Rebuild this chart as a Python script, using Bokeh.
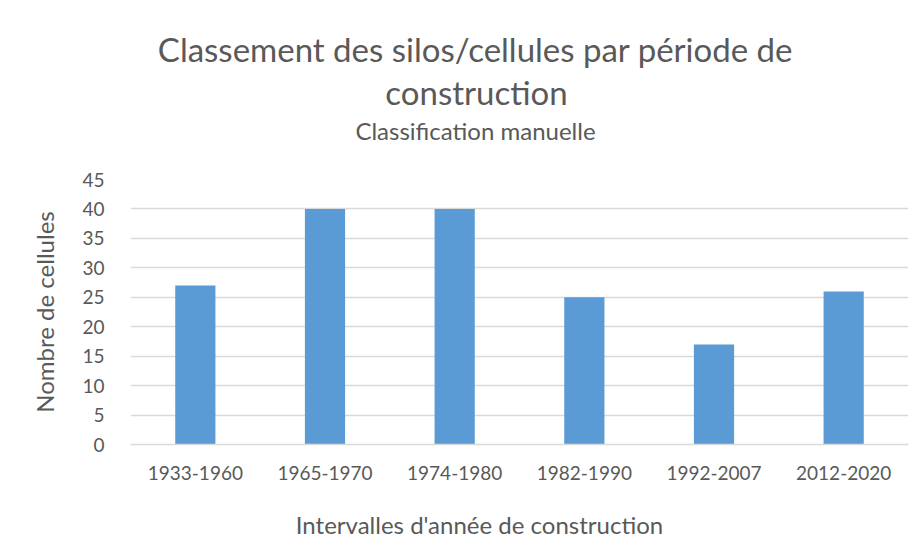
from bokeh.plotting import figure
from bokeh.layouts import column
from bokeh.models import FactorRange, Range1d, FixedTicker, ColumnDataSource
from bokeh.core.properties import value
from bokeh.embed import file_html
from bokeh.resources import INLINE

categories = ["1933-1960", "1965-1970", "1974-1980", "1982-1990", "1992-2007", "2012-2020"]
counts = [27, 40, 40, 25, 17, 26]
y_ticks = [0, 5, 10, 15, 20, 25, 30, 35, 40, 45]

title_line1 = "Classement des silos/cellules par période de"
title_line2 = "construction"
subtitle = "Classification manuelle"
x_label = "Intervalles d'année de construction"
y_label = "Nombre de cellules"

FONT = "Lato"
TXT = "#595959"
W = 910
LEFT, RIGHT = 130, 2


def text_panel(height):
    # frame aligned with the main chart's frame (column aligns inner borders)
    f = figure(width=W, height=height, output_backend="svg", toolbar_location=None,
               x_range=Range1d(LEFT, W - RIGHT), y_range=Range1d(height, 0),
               x_axis_type=None, y_axis_type=None,
               min_border_left=LEFT, min_border_right=RIGHT, min_border_top=0, min_border_bottom=0)
    f.outline_line_color = None
    f.grid.visible = False
    f.background_fill_color = "white"
    f.border_fill_color = "white"
    return f


# ---- title block ----
top = text_panel(164)
top.text(x=[475], y=[48], text=[title_line1], text_align="center", text_baseline="alphabetic",
         text_font=value(FONT), text_font_size="33px", text_color=TXT)
top.text(x=[476], y=[91], text=[title_line2], text_align="center", text_baseline="alphabetic",
         text_font=value(FONT), text_font_size="33px", text_color=TXT)
top.text(x=[475], y=[130], text=[subtitle], text_align="center", text_baseline="alphabetic",
         text_font=value(FONT), text_font_size="24px", text_color=TXT)

# ---- main chart ----
src = ColumnDataSource(dict(cat=categories, val=counts))
p = figure(width=W, height=336, output_backend="svg", toolbar_location=None,
           x_range=FactorRange(*categories), y_range=Range1d(0, 45),
           min_border_left=LEFT, min_border_right=RIGHT, min_border_top=15, min_border_bottom=56)
p.outline_line_color = None
p.background_fill_color = "white"
p.border_fill_color = "white"

p.vbar(x="cat", top="val", width=0.31, source=src, fill_color="#5B9BD5", line_color=None)

p.yaxis.ticker = FixedTicker(ticks=y_ticks)
p.yaxis.axis_line_color = None
p.yaxis.major_tick_line_color = None
p.yaxis.minor_tick_line_color = None
p.yaxis.major_label_standoff = 20
p.yaxis.major_label_text_font = FONT
p.yaxis.major_label_text_font_size = "19px"
p.yaxis.major_label_text_color = TXT
p.yaxis.axis_label = y_label
p.yaxis.axis_label_standoff = 20
p.yaxis.axis_label_text_font = FONT
p.yaxis.axis_label_text_font_size = "24px"
p.yaxis.axis_label_text_font_style = "normal"
p.yaxis.axis_label_text_color = TXT

p.xaxis.axis_line_color = "#D9D9D9"
p.xaxis.axis_line_width = 1.5
p.xaxis.major_tick_line_color = None
p.xaxis.minor_tick_line_color = None
p.xaxis.major_label_standoff = 15
p.xaxis.major_label_text_font = FONT
p.xaxis.major_label_text_font_size = "19px"
p.xaxis.major_label_text_color = TXT

p.xgrid.grid_line_color = None
p.ygrid.grid_line_color = "#D9D9D9"
p.ygrid.grid_line_width = 1.5

# ---- x axis title ----
bottom = text_panel(44)
bottom.text(x=[479], y=[24], text=[x_label], text_align="center", text_baseline="alphabetic",
            text_font=value(FONT), text_font_size="24px", text_color=TXT)

layout = column(top, p, bottom, spacing=0)
open("out.html", "w").write(file_html(layout, INLINE))
